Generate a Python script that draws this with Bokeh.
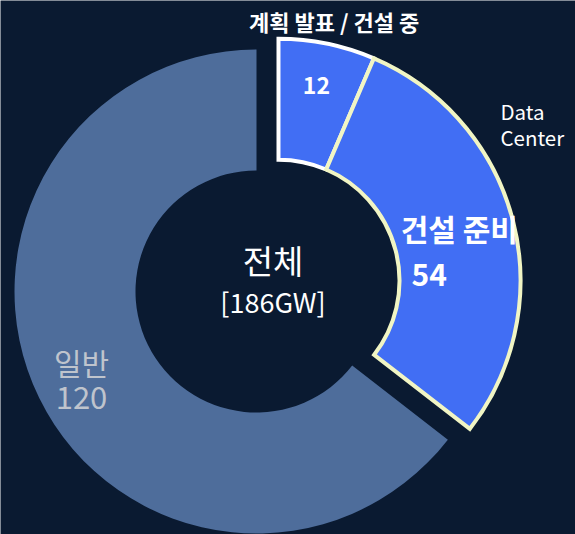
import math
from bokeh.plotting import figure
from bokeh.models import Range1d
from bokeh.core.properties import value
from bokeh.embed import file_html
from bokeh.resources import INLINE

# ---------------- data ----------------
categories = ["계획 발표 / 건설 중", "건설 준비", "일반"]
values = [12, 54, 120]
group_label = ["Data", "Center"]
center_title = "전체"
unit = "GW"

# ---------------- style / layout ----------------
FONT = value("Noto Sans CJK KR")
BG = "#0a1a31"
fills = ["#416ef4", "#416ef4", "#4e6d9b"]
strokes = ["#ffffff", "#f1f5c4", None]
exploded = [True, True, False]
CX, CY = 256, -291          # pie centre (data units = pixels, y up)
R_OUT, R_IN = 242, 121
EXPLODE = 24.5

W, H = 575, 534
p = figure(width=W, height=H, output_backend="svg", toolbar_location=None,
           x_range=Range1d(0, W), y_range=Range1d(-H, 0),
           x_axis_type=None, y_axis_type=None, min_border=0,
           background_fill_color=BG, border_fill_color=BG, outline_line_color=None)
p.grid.visible = False

total = sum(values)
cum = [0]
for v in values:
    cum.append(cum[-1] + v)
start = [math.pi / 2 - 2 * math.pi * cum[i] / total for i in range(len(values))]
end = [math.pi / 2 - 2 * math.pi * cum[i + 1] / total for i in range(len(values))]
mid = [(s + e) / 2 for s, e in zip(start, end)]

# group explode direction (bisector of exploded slices)
g_start = min(i for i, e in enumerate(exploded) if e)
g_end = max(i for i, e in enumerate(exploded) if e)
g_mid = (start[g_start] + end[g_end]) / 2
EX = CX + EXPLODE * math.cos(g_mid)
EY = CY + EXPLODE * math.sin(g_mid)

def centre(i):
    return (EX, EY) if exploded[i] else (CX, CY)

# draw: non-exploded first, then exploded in order
order = [i for i in range(len(values)) if not exploded[i]] + [i for i in range(len(values)) if exploded[i]]
for i in order:
    cx, cy = centre(i)
    kw = dict(line_color=strokes[i], line_width=4, line_join="miter") if strokes[i] else dict(line_color=None)
    p.annular_wedge(x=[cx], y=[cy], inner_radius=R_IN, outer_radius=R_OUT,
                    start_angle=[start[i]], end_angle=[end[i]], direction="clock",
                    fill_color=fills[i], **kw)

def polar(i, k):
    cx, cy = centre(i)
    return cx + k * R_OUT * math.cos(mid[i]), cy + k * R_OUT * math.sin(mid[i])

def txt(x, y, t, size, color="white", style="normal", align="center"):
    p.text(x=[x], y=[y], text=[t], text_font=FONT, text_font_size=f"{size}px",
           text_font_style=style, text_color=color, text_align=align,
           text_baseline="middle")

# slice 0: name above slice, value inside
x0, y0 = polar(0, 1.1)
txt(x0 + 2, y0 - 1, categories[0], 22, style="bold")
x0, y0 = polar(0, 0.82)
txt(x0 - 2, y0 + 1, str(values[0]), 23, style="bold")

# slice 1: name and value inside
x1, y1 = polar(1, 0.81)
txt(x1 - 9, y1 + 4, categories[1], 30, style="bold")
txt(x1 - 39, y1 - 43, str(values[1]), 30, style="bold")

# slice 2
x2, y2 = polar(2, 0.81)
txt(x2 + 1, y2 + 16, categories[2], 30, color="#bfc4cd")
txt(x2 + 1, y2 - 20, str(values[2]), 31, color="#bfc4cd")

# group label
gx, gy = EX + 222, EY + 170
txt(gx, gy, group_label[0], 20.5, align="left")
txt(gx, gy - 26.5, group_label[1], 20.5, align="left")

# centre text
txt(CX + 16.5, CY + 32, center_title, 33)
txt(CX + 16.5, CY - 10, f"[{total}{unit}]", 27)

open("out.html", "w").write(file_html(p, INLINE))
